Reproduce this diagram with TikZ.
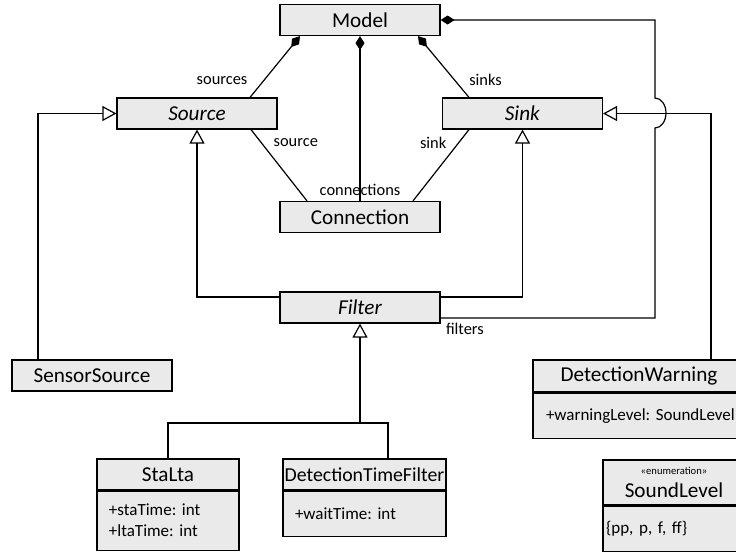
\documentclass[tikz,border=0pt]{standalone}
\usepackage{fontspec}
\setmainfont{Carlito}
\usetikzlibrary{positioning,arrows.meta}
\definecolor{classgray}{RGB}{234,234,234}
\frenchspacing

\begin{document}
\begin{tikzpicture}[x=0.5pt, y=-0.5pt,
  line width=0.6pt,
  every node/.style={align=center},
  cls/.style={draw, fill=classgray, minimum width=#1, minimum height=15.5pt, inner sep=0pt, font=\fontsize{10.6}{11.5}\selectfont},
  cls/.default=80pt,
  attrs/.style={draw, fill=classgray, align=left, text width=#1, inner xsep=6pt, font=\fontsize{8.5}{10.5}\selectfont},
  role/.style={font=\fontsize{8.2}{9}\selectfont, inner sep=1pt},
  compo/.style={{Diamond[length=7pt,width=4.5pt]}-},
  gen/.style={-{Triangle[open,length=7pt,width=7.5pt]}}]

\useasboundingbox (0,0) rectangle (736,552);
\clip (0,0) rectangle (736,552);

%classes
  \node[cls] (model) at (360,20) {Model};
  \node[cls] (source) at (197,113.5) {\textit{Source}};
  \node[cls] (sink) at (522.5,113.5) {\textit{Sink}};
  \node[cls] (connection) at (360,217) {Connection};
  \node[cls] (filter) at (360,307.5) {\textit{Filter}};
  \node[cls] (sensor) at (92,375.5) {SensorSource};

%classes with attributes
  \node[cls=71pt] (stalta) at (168,474.5) {StaLta};
  \node[attrs=59pt, minimum height=29.5pt, below=0pt of stalta] (stalta-attr) {+staTime: int\\+ltaTime: int};
  \node[cls=81.5pt, font=\fontsize{9.9}{11}\selectfont] (dtf) at (364.5,474.5) {DetectionTimeFilter};
  \node[attrs=69.5pt, minimum height=22.5pt, below=0pt of dtf] (dtf-attr) {+waitTime: int};
  \node[cls=106pt, minimum height=16pt] (warning) at (639,376) {DetectionWarning};
  \node[attrs=93pt, minimum height=22.5pt, inner xsep=6.5pt, below=0pt of warning] (warning-attr) {\mbox{+warningLevel: SoundLevel}};
  \node[cls=71pt, minimum height=22.5pt] (level) at (674,482.5) {{\fontsize{5.3}{6}\selectfont «enumeration»}\\SoundLevel};
  \node[attrs=68pt, minimum height=22.5pt, inner xsep=1.5pt, below=0pt of level] (level-attr) {\{pp, p, f, ff\}};

%compositions from Model
  \draw[compo] ([xshift=-30pt]model.south) -- ([xshift=26.5pt]source.north) node[role, pos=0.72, left=7pt] {sources};
  \draw[compo] (model.south) -- (connection.north) node[role, pos=1, above=1.5pt] {connections};
  \draw[compo] ([xshift=29pt]model.south) -- ([xshift=-26.75pt]sink.north) node[role, pos=0.72, right=6pt] {sinks};

%associations to Connection
  \draw ([xshift=27pt]source.south) -- ([xshift=-26.5pt]connection.north) node[role, pos=0.18, right=5pt] {source};
  \draw ([xshift=-26.75pt]sink.south) -- ([xshift=26.5pt]connection.north) node[role, pos=0.18, left=5pt] {sink};

%filters, jumping over the Sink line
  \coordinate (jump) at (655,113);
  \draw[compo] (model.east) -| ([yshift=7.5pt]jump)
    arc[start angle=90, end angle=-90, x radius=5.5pt, y radius=7.5pt]
    |- ([yshift=-5.25pt]filter.east) node[role, pos=1, below right=2pt] {filters};

%generalizations
  \draw[gen] ([xshift=36pt]warning.north) |- (sink.east);
  \draw[gen] ([yshift=5.25pt]filter.east) -| (sink.south);
  \draw[gen] ([yshift=5.25pt]filter.west) -| (source.south);
  \draw[gen] ([xshift=-27pt]sensor.north) |- (source.west);
  \coordinate (fork) at (360,423);
  \draw (stalta.north) |- (fork) -| ([xshift=11.75pt]dtf.north);
  \draw[gen] (fork) -- (filter.south);

\end{tikzpicture}
\end{document}
